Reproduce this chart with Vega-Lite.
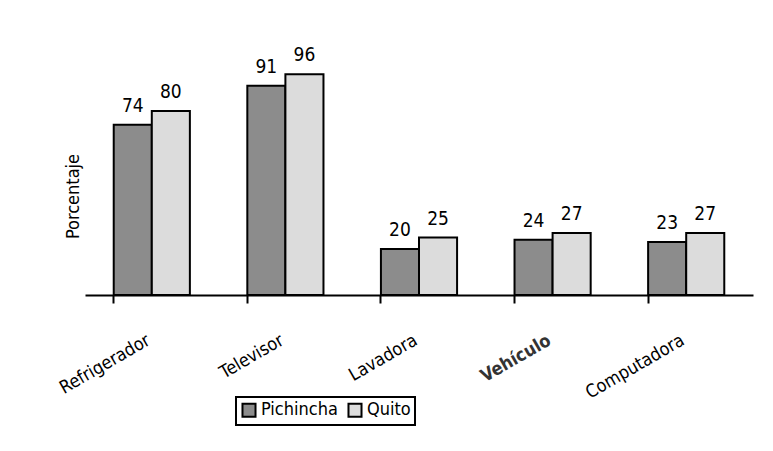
{
  "$schema": "https://vega.github.io/schema/vega-lite/v6.json",
  "width": 668,
  "height": 230,
  "autosize": "none",
  "padding": {"left": 85, "top": 65, "right": 20, "bottom": 156},
  "background": "white",
  "config": {
    "view": {"stroke": null},
    "font": "'DejaVu Sans Condensed', 'Liberation Sans', sans-serif",
    "text": {"font": "'DejaVu Sans Condensed', 'Liberation Sans', sans-serif"}
  },
  "data": {
    "values": [
      {"item": "Refrigerador", "serie": "Pichincha", "valor": 74},
      {"item": "Refrigerador", "serie": "Quito", "valor": 80},
      {"item": "Televisor", "serie": "Pichincha", "valor": 91},
      {"item": "Televisor", "serie": "Quito", "valor": 96},
      {"item": "Lavadora", "serie": "Pichincha", "valor": 20},
      {"item": "Lavadora", "serie": "Quito", "valor": 25},
      {"item": "Vehículo", "serie": "Pichincha", "valor": 24},
      {"item": "Vehículo", "serie": "Quito", "valor": 27},
      {"item": "Computadora", "serie": "Pichincha", "valor": 23},
      {"item": "Computadora", "serie": "Quito", "valor": 27}
    ]
  },
  "encoding": {
    "x": {
      "field": "item",
      "type": "nominal",
      "sort": ["Refrigerador", "Televisor", "Lavadora", "Vehículo", "Computadora"],
      "scale": {"paddingInner": 0.43, "paddingOuter": 0.215},
      "axis": {
        "title": null,
        "bandPosition": 0,
        "domainColor": "black",
        "domainWidth": 2,
        "tickColor": "black",
        "tickWidth": 2,
        "tickSize": 8,
        "labelAngle": -30,
        "labelAlign": "right",
        "labelBaseline": "middle",
        "labelPadding": 36,
        "labelFontSize": 18,
        "labelColor": {"condition": {"test": "datum.value === 'Vehículo'", "value": "#333333"}, "value": "black"},
        "labelFontWeight": {"condition": {"test": "datum.value === 'Vehículo'", "value": "bold"}, "value": "normal"},
        "labelOffset": -3
      }
    },
    "xOffset": {"field": "serie", "type": "nominal", "sort": ["Pichincha", "Quito"]},
    "y": {
      "field": "valor",
      "type": "quantitative",
      "scale": {"domain": [0, 100]},
      "axis": {
        "title": "Porcentaje",
        "domain": false,
        "ticks": false,
        "labels": false,
        "grid": false,
        "titleFontSize": 18,
        "titleFontWeight": "normal",
        "titleX": -12,
        "titleY": 131,
        "titleBaseline": "middle",
        "titleColor": "black"
      }
    }
  },
  "layer": [
    {
      "mark": {"type": "bar", "stroke": "black", "strokeWidth": 2},
      "encoding": {
        "fill": {
          "field": "serie",
          "type": "nominal",
          "scale": {"domain": ["Pichincha", "Quito"], "range": ["#8c8c8c", "#dcdcdc"]},
          "legend": {
            "orient": "none",
            "legendX": 151,
            "legendY": 332,
            "direction": "horizontal",
            "title": null,
            "strokeColor": "black",
            "padding": 4,
            "symbolType": "square",
            "symbolSize": 170,
            "symbolStrokeColor": "black",
            "symbolStrokeWidth": 2,
            "labelFontSize": 18,
            "labelColor": "black",
            "columnPadding": 6,
            "labelOffset": 3,
            "encode": {"legend": {"update": {"strokeWidth": {"value": 2}}}}
          }
        }
      }
    },
    {
      "mark": {"type": "text", "baseline": "bottom", "dy": -9, "fontSize": 19, "color": "black"},
      "encoding": {"text": {"field": "valor", "type": "quantitative"}}
    }
  ]
}
